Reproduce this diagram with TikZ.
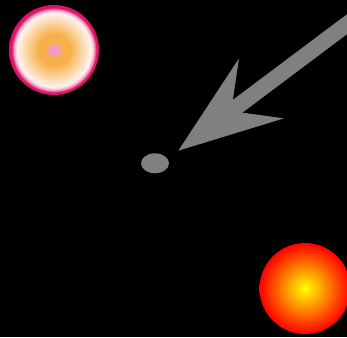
\documentclass[tikz,border=0pt]{standalone}
\usepackage{xcolor}
\usepackage{tikz}
\usetikzlibrary{shapes.geometric}
\usetikzlibrary{arrows.meta}

\definecolor{ballpink}{HTML}{F29BC6}
\definecolor{ballorange}{HTML}{F8B14A}
\definecolor{ballwhite}{HTML}{FFF3F0}
\definecolor{ballrose}{HTML}{F6A8C6}
\definecolor{balldeep}{HTML}{DC1468}
\definecolor{probegray}{HTML}{808080}

\pgfdeclareradialshading{glowball}{\pgfpoint{0bp}{0bp}}{%
  color(0bp)=(ballpink); color(2.2bp)=(ballpink);
  color(4.6bp)=(ballorange); color(9bp)=(ballorange);
  color(20.6bp)=(ballwhite); color(22.2bp)=(ballrose);
  color(23.6bp)=(balldeep); color(25bp)=(balldeep); color(50bp)=(balldeep)}

\begin{document}
\begin{tikzpicture}[
        x=1pt, y=-1pt,
        planet/.style={circle, inner sep=0pt, draw=none},
        probe/.style={ellipse, fill=probegray, inner sep=0pt, minimum width=28pt, minimum height=20pt},
        thrust/.style={line width=16pt, color=probegray, -{Stealth[length=104pt, width=75pt, inset=38pt, line width=0pt]}}
    ]

        \useasboundingbox (0,0) rectangle (347,337);
        \fill[black] (0,0) rectangle (347,337);

        % bodies
        \node[planet, shading=glowball, minimum size=90pt] (glow) at (54,50) {};
        \node[planet, inner color=yellow, outer color=red, minimum size=91pt] (sun) at (305,288.5) {};
        \node[probe] (ball) at (155,163.3) {};

        % push
        \coordinate (tail) at (360,14.5);
        \coordinate (head) at (178.3,150.7);
        \draw[thrust] (tail) -- (head);
    \end{tikzpicture}
\end{document}
